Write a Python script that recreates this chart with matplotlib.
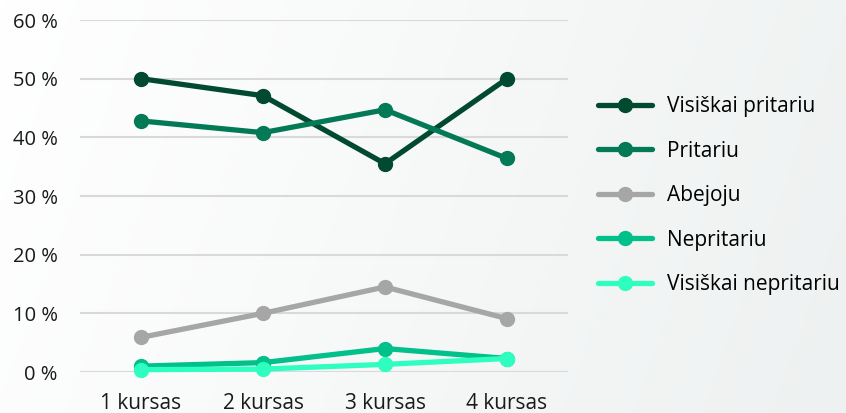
import numpy as np
import matplotlib
matplotlib.use("Agg")
import matplotlib.pyplot as plt

plt.rcParams['font.family'] = ['Open Sans', 'DejaVu Sans']

kursai = ["1 kursas", "2 kursas", "3 kursas", "4 kursas"]
visiskai_pritariu = [50.0, 47.1, 35.5, 50.0]
pritariu = [42.8, 40.8, 44.7, 36.4]
abejoju = [5.9, 10.0, 14.5, 9.1]
nepritariu = [1.0, 1.6, 4.0, 2.3]
visiskai_nepritariu = [0.4, 0.5, 1.3, 2.3]

series = [
    ("Visiškai pritariu", visiskai_pritariu, "#014a2f"),
    ("Pritariu", pritariu, "#037a55"),
    ("Abejoju", abejoju, "#a6a6a6"),
    ("Nepritariu", nepritariu, "#02c08a"),
    ("Visiškai nepritariu", visiskai_nepritariu, "#2effc0"),
]

fig = plt.figure(figsize=(8.46, 4.13), dpi=100)

# soft background gradient (white top-left -> light grey right)
bg = fig.add_axes([0, 0, 1, 1], zorder=-10)
gx, gy = np.meshgrid(np.linspace(0, 1, 200), np.linspace(0, 1, 100))
grad = np.clip(gx * 0.85 + gy * 0.15, 0, 1)
bg.imshow(grad, cmap=matplotlib.colors.LinearSegmentedColormap.from_list(
    "bg", ["#ffffff", "#eef1f1"]), aspect="auto", extent=[0, 1, 0, 1], origin="upper")
bg.axis("off")

ax = fig.add_axes([80 / 846, 1 - 372 / 413, 488 / 846, 352 / 413])
ax.patch.set_alpha(0)
x = np.arange(len(kursai))
for name, vals, col in series:
    ax.plot(x, vals, color=col, lw=3.8, marker="o", markersize=10,
            label=name, clip_on=False, solid_capstyle="round")

ax.set_xlim(-0.5, 3.5)
ax.set_ylim(0, 60)
ax.set_yticks(range(0, 61, 10))
ax.set_yticklabels([f"{v} %" for v in range(0, 61, 10)])
ax.set_xticks(x)
ax.set_xticklabels(kursai)
ax.grid(axis="y", color="#d9d9d9", lw=1.5)
ax.set_axisbelow(True)
for s in ax.spines.values():
    s.set_visible(False)
ax.tick_params(length=0, colors="#1a1a1a")
ax.tick_params(axis="y", pad=16, labelsize=14.5)
ax.tick_params(axis="x", pad=15, labelsize=15)

fig.legend(loc="upper left", bbox_to_anchor=(598 / 846, 1 - 96 / 413),
           frameon=False, fontsize=15, handlelength=2.6, handletextpad=0.72,
           labelspacing=1.13, borderaxespad=0, borderpad=0)

fig.savefig("out.png", dpi=100)
